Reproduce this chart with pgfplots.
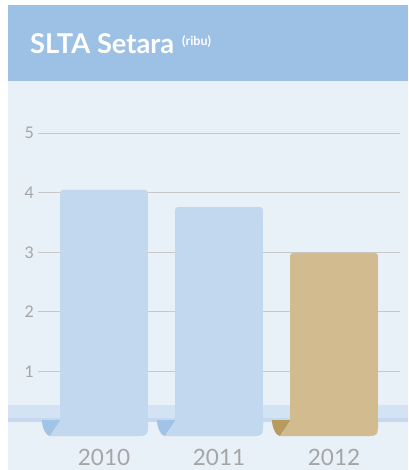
\documentclass[border=0pt]{standalone}
\usepackage{pgfplots}
\pgfplotsset{compat=1.18}
\usepackage{fontspec}
\setmainfont{Lato}
\definecolor{hdr}{HTML}{9DC1E5}
\definecolor{panel}{HTML}{E8F0F8}
\definecolor{band}{HTML}{D3E3F4}
\definecolor{bandline}{HTML}{C4D9EF}
\definecolor{gridc}{HTML}{C8C8C8}
\definecolor{tickc}{HTML}{A5A5A5}
\definecolor{barblue}{HTML}{C2D8EE}
\definecolor{bartan}{HTML}{D1BB8F}
\definecolor{curlblue}{HTML}{A0C3E6}
\definecolor{curltan}{HTML}{B89B5E}
\begin{document}
\begin{tikzpicture}[x=1pt,y=1pt]
\useasboundingbox (0,0) rectangle (408,470);
\fill[white] (0,0) rectangle (408,470);
\fill[panel] (8,0) rectangle (408,390);
\fill[hdr] (8,389) rectangle (408,465);
\fill[band] (8,49) rectangle (408,65);
\fill[bandline] (8,48.3) rectangle (408,52);
\node[anchor=base west, text=white, font=\fontsize{27.3}{27.3}\selectfont\bfseries, inner sep=0pt] at (30,416.7) {SLTA Setara};
\node[anchor=base west, text=white, font=\fontsize{12.5}{12.5}\selectfont\bfseries, inner sep=0pt] at (182,424.5) {(ribu)};
\begin{axis}[
  x=115pt, y=59.5pt,
  xmin=-0.574, xmax=2.574, ymin=0, ymax=5,
  anchor=origin, at={(104pt,39.2pt)},
  clip=false,
  axis line style={draw=none},
  major tick style={draw=none},
  ytick={1,2,3,4,5},
  ymajorgrids,
  grid style={gridc, line width=0.8pt},
  xtick={0,1,2},
  xticklabels={2010,2011,2012},
  /pgf/number format/assume math mode=true,
  yticklabel style={text=tickc, font=\fontsize{16}{16}\selectfont, inner sep=0pt, anchor=east, xshift=-4pt},
  xticklabel style={text=tickc, font=\fontsize{22.5}{22.5}\selectfont, inner sep=0pt, anchor=base, yshift=-34.5pt},
]
\addplot[ybar, bar width=0.765, bar shift=0pt, fill=barblue, draw=none, rounded corners=3pt] coordinates {(0,4.05) (1,3.76)};
\addplot[ybar, bar width=0.765, bar shift=0pt, fill=bartan, draw=none, rounded corners=3pt] coordinates {(2,2.99)};
% bar feet (decorative curl)
\fill[curlblue] (axis cs:-0.5391,0.1815) .. controls (axis cs:-0.5391,0.05) and (axis cs:-0.5026,-0.0874) .. (axis cs:-0.4696,-0.0874) -- (axis cs:-0.3826,0.1647) -- (axis cs:-0.3826,0.1815) -- cycle;
\fill[barblue] (axis cs:-0.3826,0.2) -- (axis cs:-0.3826,0.1647) -- (axis cs:-0.4696,-0.0874) -- (axis cs:0.3126,-0.0874) .. controls (axis cs:0.3626,-0.0874) and (axis cs:0.3826,-0.06) .. (axis cs:0.3826,0.047) -- (axis cs:0.3826,0.2) -- cycle;
\fill[curlblue] (axis cs:0.4609,0.1815) .. controls (axis cs:0.4609,0.05) and (axis cs:0.4974,-0.0874) .. (axis cs:0.5304,-0.0874) -- (axis cs:0.6174,0.1647) -- (axis cs:0.6174,0.1815) -- cycle;
\fill[barblue] (axis cs:0.6174,0.2) -- (axis cs:0.6174,0.1647) -- (axis cs:0.5304,-0.0874) -- (axis cs:1.3126,-0.0874) .. controls (axis cs:1.3626,-0.0874) and (axis cs:1.3826,-0.06) .. (axis cs:1.3826,0.047) -- (axis cs:1.3826,0.2) -- cycle;
\fill[curltan] (axis cs:1.4609,0.1815) .. controls (axis cs:1.4609,0.05) and (axis cs:1.4974,-0.0874) .. (axis cs:1.5304,-0.0874) -- (axis cs:1.6174,0.1647) -- (axis cs:1.6174,0.1815) -- cycle;
\fill[bartan] (axis cs:1.6174,0.2) -- (axis cs:1.6174,0.1647) -- (axis cs:1.5304,-0.0874) -- (axis cs:2.3126,-0.0874) .. controls (axis cs:2.3626,-0.0874) and (axis cs:2.3826,-0.06) .. (axis cs:2.3826,0.047) -- (axis cs:2.3826,0.2) -- cycle;
\end{axis}
\end{tikzpicture}
\end{document}
